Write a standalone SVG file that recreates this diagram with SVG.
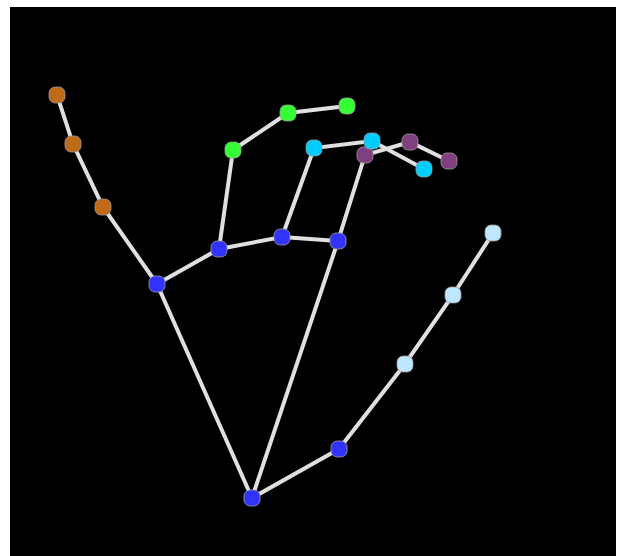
<svg xmlns="http://www.w3.org/2000/svg" width="626" height="556" viewBox="0 0 626 556">
<style>
.bone{stroke:#e0e0e0;stroke-width:4;stroke-linecap:round;fill:none}
.pt{stroke:#9a9a9a;stroke-width:0.8}
.blue{fill:#3333ff}.thumb{fill:#bfe6ff}.idx{fill:#804080}.mid{fill:#00ccff}.ring{fill:#33ff33}.pinky{fill:#c06a1a}
</style>
<rect x="0" y="0" width="626" height="556" fill="#ffffff"/>
<rect x="10" y="7" width="606" height="549" fill="#000000"/>
<g id="connectors">
<polyline class="bone" points="252,498 339,449 405,364 453,295 493,233"/>
<line class="bone" x1="252" y1="498" x2="157" y2="284"/>
<line class="bone" x1="252" y1="498" x2="338" y2="241"/>
<polyline class="bone" points="157,284 219,249 282,237 338,241"/>
<polyline class="bone" points="338,241 365,155 410,142 449,161"/>
<polyline class="bone" points="282,237 314,148 372,141 424,169"/>
<polyline class="bone" points="219,249 233,150 288,113 347,106"/>
<polyline class="bone" points="157,284 103,207 73,144 57,95"/>
</g>
<g id="wrist"><rect class="pt blue" x="244" y="490" width="16" height="16" rx="6"/></g>
<g id="thumb1"><rect class="pt blue" x="331" y="441" width="16" height="16" rx="6"/></g>
<g id="thumb2"><rect class="pt thumb" x="397" y="356" width="16" height="16" rx="6"/></g>
<g id="thumb3"><rect class="pt thumb" x="445" y="287" width="16" height="16" rx="6"/></g>
<g id="thumb4"><rect class="pt thumb" x="485" y="225" width="16" height="16" rx="6"/></g>
<g id="index1"><rect class="pt blue" x="330" y="233" width="16" height="16" rx="6"/></g>
<g id="index2"><rect class="pt idx" x="357" y="147" width="16" height="16" rx="6"/></g>
<g id="index3"><rect class="pt idx" x="402" y="134" width="16" height="16" rx="6"/></g>
<g id="index4"><rect class="pt idx" x="441" y="153" width="16" height="16" rx="6"/></g>
<g id="middle1"><rect class="pt blue" x="274" y="229" width="16" height="16" rx="6"/></g>
<g id="middle2"><rect class="pt mid" x="306" y="140" width="16" height="16" rx="6"/></g>
<g id="middle3"><rect class="pt mid" x="364" y="133" width="16" height="16" rx="6"/></g>
<g id="middle4"><rect class="pt mid" x="416" y="161" width="16" height="16" rx="6"/></g>
<g id="ring1"><rect class="pt blue" x="211" y="241" width="16" height="16" rx="6"/></g>
<g id="ring2"><rect class="pt ring" x="225" y="142" width="16" height="16" rx="6"/></g>
<g id="ring3"><rect class="pt ring" x="280" y="105" width="16" height="16" rx="6"/></g>
<g id="ring4"><rect class="pt ring" x="339" y="98" width="16" height="16" rx="6"/></g>
<g id="pinky1"><rect class="pt blue" x="149" y="276" width="16" height="16" rx="6"/></g>
<g id="pinky2"><rect class="pt pinky" x="95" y="199" width="16" height="16" rx="6"/></g>
<g id="pinky3"><rect class="pt pinky" x="65" y="136" width="16" height="16" rx="6"/></g>
<g id="pinky4"><rect class="pt pinky" x="49" y="87" width="16" height="16" rx="6"/></g>
</svg>
